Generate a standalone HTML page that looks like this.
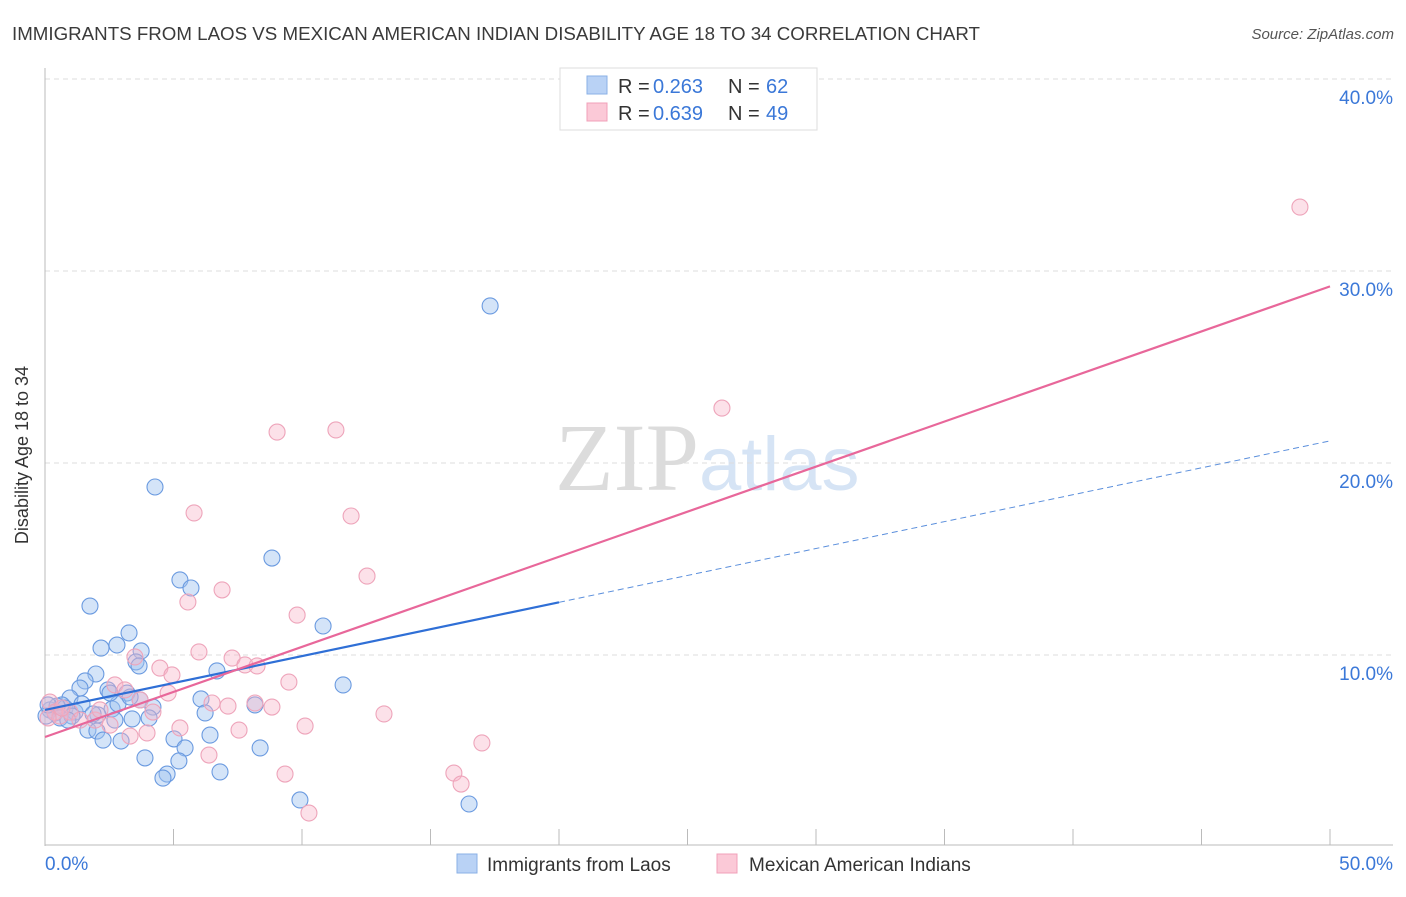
<!DOCTYPE html>
<html><head><meta charset="utf-8"><style>
body{margin:0;background:#fff;font-family:"Liberation Sans",sans-serif;}
svg text{font-family:"Liberation Sans",sans-serif;}
</style></head><body>
<svg id="chart" width="1406" height="892" xmlns="http://www.w3.org/2000/svg">
<text x="12" y="40" font-size="18" fill="#3a3a3a" textLength="968" lengthAdjust="spacingAndGlyphs">IMMIGRANTS FROM LAOS VS MEXICAN AMERICAN INDIAN DISABILITY AGE 18 TO 34 CORRELATION CHART</text>
<text x="1394" y="39" font-size="15" fill="#555" font-style="italic" text-anchor="end">Source: ZipAtlas.com</text>
<text x="555" y="490" font-size="96" fill="#dcdcdc" font-family="Liberation Serif"><tspan fill="#dcdcdc" font-family="Liberation Serif">ZIP</tspan><tspan fill="#d6e4f5" font-family="Liberation Sans" font-size="76">atlas</tspan></text>
<g id="grid"></g>
<g id="axes"></g>
<g id="pts"></g>
<g id="lines"></g>
<text x="28" y="455" font-size="18" fill="#333" text-anchor="middle" transform="rotate(-90 28 455)">Disability Age 18 to 34</text>
<g>
<rect x="560" y="68" width="257" height="62" fill="#fff" stroke="#ddd"/>
<rect x="587" y="76" width="20" height="18" fill="#b9d2f5" stroke="#8ab0e6"/>
<rect x="587" y="103" width="20" height="18" fill="#fbc9d7" stroke="#f0a0b8"/>
<text x="618" y="93" font-size="20" fill="#333">R =</text><text x="653" y="93" font-size="20" fill="#3b78d8">0.263</text>
<text x="728" y="93" font-size="20" fill="#333">N =</text><text x="766" y="93" font-size="20" fill="#3b78d8">62</text>
<text x="618" y="120" font-size="20" fill="#333">R =</text><text x="653" y="120" font-size="20" fill="#3b78d8">0.639</text>
<text x="728" y="120" font-size="20" fill="#333">N =</text><text x="766" y="120" font-size="20" fill="#3b78d8">49</text>
</g>
<g>
<rect x="457" y="854" width="20" height="19" fill="#b9d2f5" stroke="#8ab0e6"/>
<text x="487" y="871" font-size="19" fill="#333">Immigrants from Laos</text>
<rect x="717" y="854" width="20" height="19" fill="#fbc9d7" stroke="#f0a0b8"/>
<text x="749" y="871" font-size="19" fill="#333">Mexican American Indians</text>
</g>
</svg>
<script>
const yTicks=[10,20,30,40];
const yTickLabels=["10.0%","20.0%","30.0%","40.0%"];
const xTickLabels=["0.0%","50.0%"];
const laosX=[17.32,4.28,8.83,5.25,5.68,1.75,10.82,3.27,2.18,2.80,3.74,3.54,3.66,1.98,6.69,1.56,1.36,2.45,3.19,11.60,6.07,8.17,4.20,0.97,2.61,6.23,3.39,4.05,1.67,2.02,0.66,0.19,0.39,0.78,1.17,2.26,2.96,6.42,5.02,5.45,3.89,5.21,8.37,6.81,4.75,4.59,9.92,16.50,2.72,2.06,0.47,0.04,0.12,0.58,1.05,1.44,1.87,0.89,3.70,2.84,3.31,2.53];
const laosY=[28.18,18.75,15.05,13.91,13.49,12.55,11.51,11.15,10.36,10.52,10.21,9.64,9.43,9.01,9.17,8.65,8.28,8.18,8.02,8.44,7.71,7.40,7.29,7.76,7.19,6.98,6.67,6.72,6.09,6.04,7.40,7.14,6.98,7.24,7.03,5.57,5.52,5.83,5.63,5.16,4.64,4.48,5.16,3.91,3.80,3.59,2.45,2.24,6.61,6.88,7.34,6.82,7.40,6.72,6.82,7.45,6.93,6.61,7.66,7.45,7.81,8.02];
const mexX=[48.83,26.34,9.03,11.32,5.80,11.91,12.53,5.56,6.89,9.81,5.99,7.28,7.78,8.25,4.47,4.94,3.50,9.49,4.79,8.17,8.83,6.50,7.12,4.20,3.70,2.72,13.19,10.12,5.25,7.55,3.97,3.31,1.95,2.14,2.53,17.00,6.38,9.34,15.91,16.19,10.27,0.19,0.39,0.58,0.97,1.36,0.66,0.12,3.11];
const mexY=[33.33,22.86,21.61,21.72,17.40,17.24,14.11,12.76,13.39,12.08,10.16,9.84,9.48,9.43,9.32,8.96,9.90,8.59,8.02,7.50,7.29,7.50,7.34,7.03,7.66,8.44,6.93,6.30,6.20,6.09,5.94,5.78,6.61,7.14,6.35,5.42,4.79,3.80,3.85,3.28,1.77,7.55,7.03,6.82,7.03,6.61,7.24,6.72,8.18];
const laosFit=[7.14,21.15];
const mexFit=[5.73,29.2];
const NS="http://www.w3.org/2000/svg";
const X=v=>45+v*25.7, Y=v=>847-v*19.2;
function mk(t,a,p){const e=document.createElementNS(NS,t);for(const k in a)e.setAttribute(k,a[k]);p.appendChild(e);return e;}
const grid=document.getElementById('grid'),axes=document.getElementById('axes'),pts=document.getElementById('pts'),lines=document.getElementById('lines');
yTicks.forEach((t,i)=>{
 const l=mk('line',{x1:45,x2:1393,y1:Y(t),y2:Y(t),stroke:'#ddd','stroke-dasharray':'5,4'},grid);
 
 
 const tx=mk('text',{x:1393,y:Y(t)+25,'font-size':19,fill:'#3b78d8','text-anchor':'end'},axes);
 tx.textContent=yTickLabels[i];
 
 
});
mk('line',{x1:45,x2:45,y1:68,y2:846,stroke:'#bbb'},axes);
mk('line',{x1:45,x2:1393,y1:845,y2:845,stroke:'#bbb'},axes);
for(let i=1;i<=10;i++){const t=mk('line',{x1:X(i*5),x2:X(i*5),y1:829,y2:845,stroke:'#bbb'},axes);
 
 }
[[0,'start',45],[50,'end',1393]].forEach((d,i)=>{const tx=mk('text',{x:d[2],y:870,'font-size':19,fill:'#3b78d8','text-anchor':d[1]},axes);tx.textContent=xTickLabels[i];
 
 });
laosX.forEach((x,i)=>{const c=mk('circle',{cx:X(x),cy:Y(laosY[i]),r:8,fill:'rgba(160,196,240,0.45)',stroke:'#6a9ae0','stroke-width':1.1},pts);
 
 });
mexX.forEach((x,i)=>{const c=mk('circle',{cx:X(x),cy:Y(mexY[i]),r:8,fill:'rgba(248,180,200,0.4)',stroke:'#eea4ba','stroke-width':1.1},pts);
 
 });
const lf=x=>laosFit[0]+(laosFit[1]-laosFit[0])*x/50;
let a=mk('line',{x1:X(0),y1:Y(lf(0)),x2:X(20),y2:Y(lf(20)),stroke:'#2f6fd6','stroke-width':2.2},lines);


a=mk('line',{x1:X(20),y1:Y(lf(20)),x2:X(50),y2:Y(lf(50)),stroke:'#5b8fdc','stroke-width':1,'stroke-dasharray':'6,4'},lines);


a=mk('line',{x1:X(0),y1:Y(mexFit[0]),x2:X(50),y2:Y(mexFit[1]),stroke:'#e8679a','stroke-width':2.2},lines);


</script>
</body></html>
